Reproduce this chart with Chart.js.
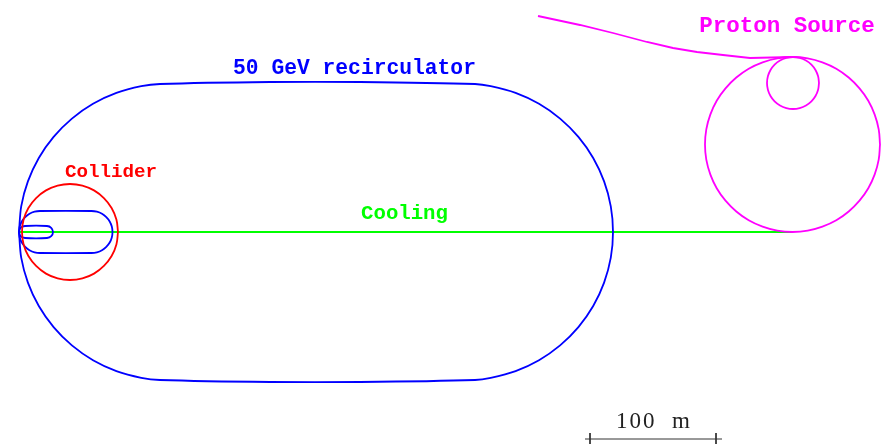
<!DOCTYPE html>
<html>
<head>
<meta charset="utf-8">
<style>html,body{margin:0;padding:0;background:#fff}canvas{display:block}</style>
<script src="https://cdn.jsdelivr.net/npm/chart.js@4/dist/chart.umd.min.js"></script>
</head>
<body>
<canvas id="c" width="890" height="445"></canvas>
<script>
// Ring outlines, in plan units with origin at the injection point.
const recircX = [0,2.2,8.9,19.8,34.6,52.9,74,97.4,122.3,141,251,341,456,471.7,496.6,520,541.1,559.4,574.2,585.1,591.8,594,591.8,585.1,574.2,559.4,541.1,520,496.6,471.7,456,341,251,141,122.3,97.4,74,52.9,34.6,19.8,8.9,2.2,0];
const recircY = [0,25.7,50.6,74,95.1,113.4,128.2,139.1,145.8,148,150,150,148,145.8,139.1,128.2,113.4,95.1,74,50.6,25.7,0,-25.7,-50.6,-74,-95.1,-113.4,-128.2,-139.1,-145.8,-148,-150,-150,-148,-145.8,-139.1,-128.2,-113.4,-95.1,-74,-50.6,-25.7,0];
const arcMidX = [0,0.7,2.8,6.2,10.5,15.6,21,72.5,77.9,83,87.3,90.7,92.8,93.5,92.8,90.7,87.3,83,77.9,72.5,21,15.6,10.5,6.2,2.8,0.7,0];
const arcMidY = [0,5.4,10.5,14.8,18.2,20.3,21,21,20.3,18.2,14.8,10.5,5.4,0,-5.4,-10.5,-14.8,-18.2,-20.3,-21,-21,-20.3,-18.2,-14.8,-10.5,-5.4,0];
const arcSmallX = [0,1.5,6,28,32.2,34,32.2,28,6,1.5,0];
const arcSmallY = [0,4.2,6,6,4.2,0,-4.2,-6,-6,-4.2,0];
const colliderX = [99,97.4,92.6,84.9,75,63.4,51,38.6,27,17.1,9.4,4.6,3,4.6,9.4,17.1,27,38.6,51,63.4,75,84.9,92.6,97.4,99];
const colliderY = [0,12.4,24,33.9,41.6,46.4,48,46.4,41.6,33.9,24,12.4,0,-12.4,-24,-33.9,-41.6,-46.4,-48,-46.4,-41.6,-33.9,-24,-12.4,0];
const coolingX = [0,773];
const coolingY = [0,0];
const protonRingX = [861,859.7,855.7,849.3,840.5,829.7,817.3,803.4,788.7,773.5,758.3,743.6,729.7,717.3,706.5,697.7,691.3,687.3,686,687.3,691.3,697.7,706.5,717.3,729.7,743.6,758.3,773.5,788.7,803.4,817.3,829.7,840.5,849.3,855.7,859.7,861];
const protonRingY = [87.5,102.7,117.4,131.3,143.7,154.5,163.3,169.7,173.7,175,173.7,169.7,163.3,154.5,143.7,131.3,117.4,102.7,87.5,72.3,57.6,43.7,31.3,20.5,11.7,5.3,1.3,0,1.3,5.3,11.7,20.5,31.3,43.7,57.6,72.3,87.5];
const protonSmallX = [800,799.1,796.5,792.4,787,780.7,774,767.3,761,755.6,751.5,748.9,748,748.9,751.5,755.6,761,767.3,774,780.7,787,792.4,796.5,799.1,800];
const protonSmallY = [149,155.7,162,167.4,171.5,174.1,175,174.1,171.5,167.4,162,155.7,149,142.3,136,130.6,126.5,123.9,123,123.9,126.5,130.6,136,142.3,149];
const protonLineX = [519,561,594,628,654,678,704,731,774];
const protonLineY = [216,207,199,190,184,180,177,174,175];
const scaleBarX = [566,703,null,571,571,null,697,697];
const scaleBarY = [-207,-207,null,-201,-212,null,-201,-212];
const labelTexts = ["50 GeV recirculator","Collider","Cooling","Proton Source","100\u00a0\u00a0m"];

const zip = (xs, ys) => xs.map((x, i) => ({x, y: ys[i]}));
const line = (label, xs, ys, color, width, order, tension) => ({
  label, data: zip(xs, ys), borderColor: color, borderWidth: width, order, tension,
  pointRadius: 0, showLine: true, fill: false, clip: false, spanGaps: false
});

const labelStyle = [
  {x: 335.5, y: 163.5, color: "#0000ff", font: "bold 21.3px 'Liberation Mono'", gap: "0px"},
  {x: 92,    y: 60,    color: "#ff0000", font: "bold 19.2px 'Liberation Mono'", gap: "0px"},
  {x: 385.5, y: 18.5,  color: "#00ff00", font: "bold 20.7px 'Liberation Mono'", gap: "0px"},
  {x: 768,   y: 206,   color: "#ff00ff", font: "bold 22.5px 'Liberation Mono'", gap: "0px"},
  {x: 635,   y: -189.5, color: "#222222", font: "23px 'Liberation Serif'", gap: "2px"}
];
const textPlugin = {
  id: "labels",
  afterDatasetsDraw(chart) {
    const {ctx, scales: {x, y}} = chart;
    ctx.save();
    ctx.textAlign = "center";
    ctx.textBaseline = "middle";
    labelTexts.forEach((t, i) => {
      const s = labelStyle[i];
      ctx.fillStyle = s.color;
      ctx.font = s.font;
      ctx.letterSpacing = s.gap;
      ctx.fillText(t, x.getPixelForValue(s.x), y.getPixelForValue(s.y));
    });
    ctx.restore();
  }
};

new Chart(document.getElementById("c"), {
  type: "scatter",
  data: {datasets: [
    line("50 GeV recirculator", recircX, recircY, "#0000ff", 1.8, 2, 0.3),
    line("Recirculator middle arc", arcMidX, arcMidY, "#0000ff", 1.8, 2, 0.3),
    line("Recirculator small arc", arcSmallX, arcSmallY, "#0000ff", 1.8, 2, 0.3),
    line("Collider", colliderX, colliderY, "#ff0000", 1.8, 1, 0.4),
    line("Cooling", coolingX, coolingY, "#00ff00", 2, 3, 0),
    line("Proton ring", protonRingX, protonRingY, "#ff00ff", 1.8, 2, 0.4),
    line("Proton small ring", protonSmallX, protonSmallY, "#ff00ff", 1.8, 2, 0.4),
    line("Proton line", protonLineX, protonLineY, "#ff00ff", 1.8, 2, 0),
    line("Scale bar", scaleBarX, scaleBarY, "#333333", 1, 2, 0)
  ]},
  options: {
    responsive: false,
    animation: false,
    layout: {padding: 0},
    plugins: {legend: {display: false}, tooltip: {enabled: false}},
    scales: {
      x: {type: "linear", min: -19, max: 871, display: false},
      y: {type: "linear", min: -213, max: 232, display: false}
    }
  },
  plugins: [textPlugin]
});
</script>
</body>
</html>
